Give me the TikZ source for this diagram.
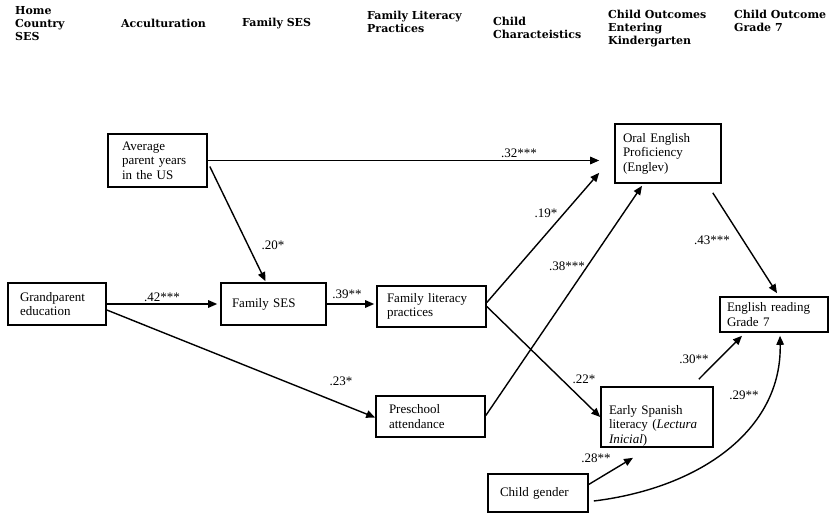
\documentclass[tikz,border=0pt]{standalone}
\usepackage{fontspec}
\setmainfont{Liberation Serif}
\newfontfamily\hdrfamily{DejaVu Serif}
\usetikzlibrary{arrows.meta,calc}
\newcommand{\bodyf}{\fontsize{13}{14.5}\selectfont}
\newcommand{\hdrf}{\hdrfamily\bfseries\fontsize{11}{13}\selectfont}
\tikzset{
  box/.style={draw, line width=1.6pt, inner ysep=0pt, align=left, font=\bodyf, anchor=center},
  arr/.style={line width=1.4pt, -{Triangle[length=9pt,width=7.5pt]}},
  lab/.style={font=\bodyf, inner sep=0pt},
  hdr/.style={font=\hdrf, align=left, anchor=north west, inner sep=0pt}
}
\begin{document}
\begin{tikzpicture}[x=1pt,y=-1pt]
\useasboundingbox[fill=white] (0,0) rectangle (835,514);

% headers
\node[hdr] (h1) at (15,6) {Home\\Country\\SES};
\node[hdr] (h2) at (121,19) {Acculturation};
\node[hdr] (h3) at (242,18) {Family SES};
\node[hdr] (h4) at (367,11) {Family Literacy\\Practices};
\node[hdr] (h5) at (493,17) {Child\\Characteistics};
\node[hdr] (h6) at (608,10) {Child Outcomes\\Entering\\Kindergarten};
\node[hdr] (h7) at (734,10) {Child Outcome\\Grade 7};

% boxes
\node[box, minimum height=53pt, text width=71pt, inner xsep=14pt] (avg) at (157.5,160.5) {Average\\parent years\\in the US};
\node[box, minimum height=42pt, text width=74pt, inner xsep=12pt] (grand) at (57,304) {Grandparent\\education};
\node[box, minimum height=42pt, text width=83pt, inner xsep=11pt] (fses) at (273.5,304) {Family SES};
\node[box, minimum height=41pt, text width=89pt, inner xsep=10pt] (flit) at (431.5,306.5) {Family literacy\\practices};
\node[box, minimum height=41pt, text width=83pt, inner xsep=13pt] (pre) at (430.5,416.5) {Preschool\\attendance};
\node[box, minimum height=59pt, text width=90pt, inner xsep=8pt] (oral) at (668,153.5) {Oral English\\Proficiency\\(Englev)};
\node[box, minimum height=35pt, text width=94pt, inner xsep=7pt] (eng) at (774,314.5) {English reading\\Grade 7};
\node[box, minimum height=60pt, text width=96pt, inner xsep=8pt] (span) at (657,417) {\rule{0pt}{26pt}Early Spanish\\literacy (\textit{Lectura}\\\textit{Inicial})};
\node[box, minimum height=38pt, text width=76pt, inner xsep=12pt] (gender) at (538,493) {Child gender};

% connectors
\draw[arr, shorten >=15pt] (avg.east) -- (avg.east -| oral.west);
\draw[arr] ($(avg.east)+(2,6)$) -- ($(fses.north)+(-8,-1)$);
\draw[arr, shorten >=3pt] (grand.east) -- (fses.west);
\draw[arr, shorten >=2pt] (fses.east) -- (fses.east -| flit.west);
\draw[arr] ($(grand.east)+(0,6)$) -- ($(pre.west)+(0,1)$);
\draw[arr] ($(flit.east)+(0,-4)$) -- ($(oral.south west)+(-15,-11)$);
\draw[arr] ($(pre.east)+(0,-1)$) -- ($(oral.south)+(-26,2)$);
\draw[arr] (flit.east) -- (span.west);
\draw[arr] ($(oral.south east)+(-9,9)$) -- ($(eng.north)+(3,-3)$);
\draw[arr] ($(span.north east)+(-15,-7)$) -- ($(eng.south)+(-32,3)$);
\draw[arr] ($(gender.east)+(-1,-8)$) -- ($(span.south)+(-24,10)$);
\draw[arr] ($(gender.east)+(5,8)$) .. controls (700,488) and (782,430) .. ($(eng.south)+(6,3)$);

% labels
\node[lab] (l32) at (519,153) {.32***};
\node[lab] (l20) at (273,245) {.20*};
\node[lab] (l42) at (162,297) {.42***};
\node[lab] (l39) at (347,294) {.39**};
\node[lab] (l23) at (341,381) {.23*};
\node[lab] (l19) at (546,213) {.19*};
\node[lab] (l38) at (567,266) {.38***};
\node[lab] (l22) at (584,379) {.22*};
\node[lab] (l43) at (712,240) {.43***};
\node[lab] (l30) at (694,359) {.30**};
\node[lab] (l29) at (744,395) {.29**};
\node[lab] (l28) at (596,458) {.28**};
\end{tikzpicture}
\end{document}
